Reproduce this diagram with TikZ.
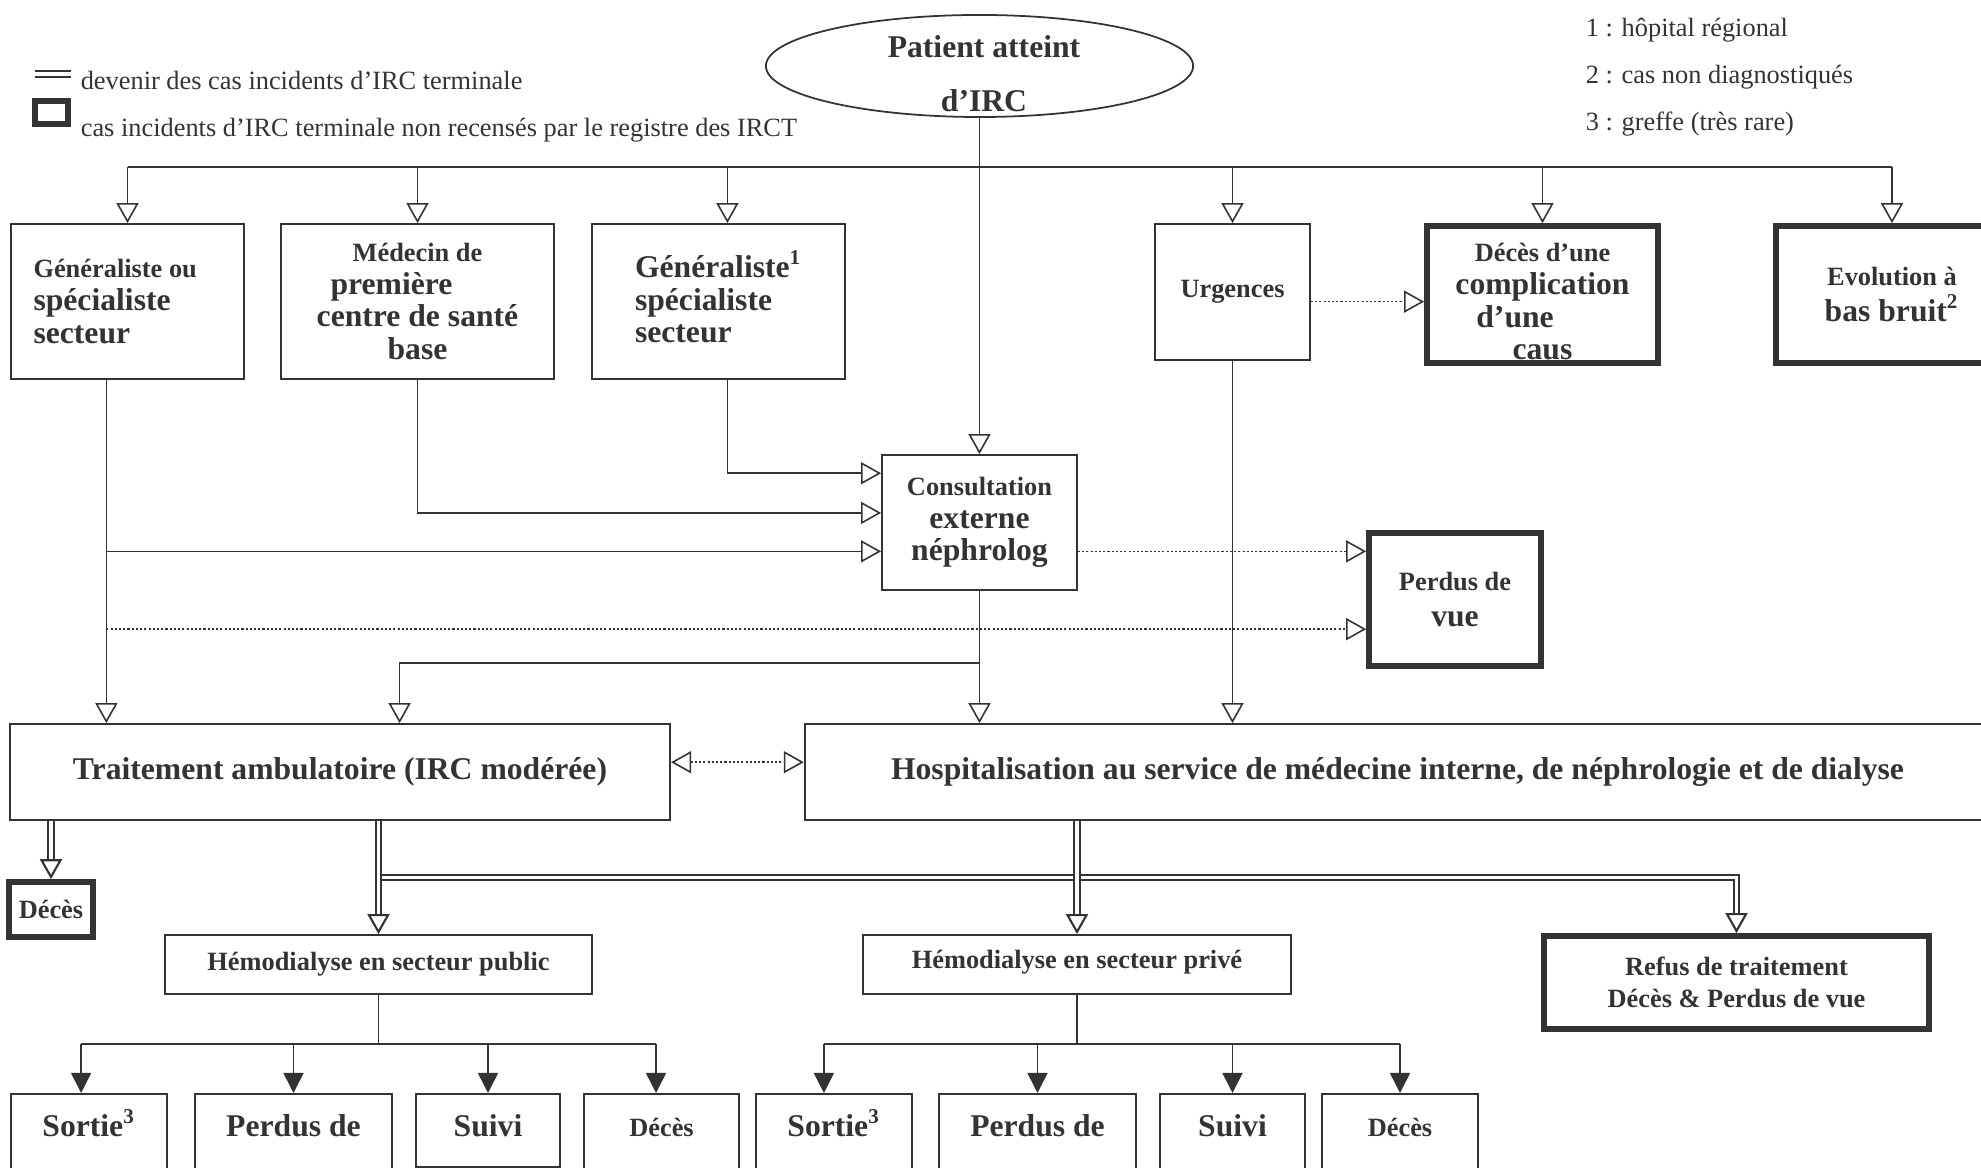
\documentclass[tikz,border=0pt]{standalone}
\usepackage{fontspec}
\setmainfont{Liberation Serif}
\usepackage{tikz}
\usetikzlibrary{calc,arrows.meta,shapes.geometric,positioning}

\definecolor{ink}{HTML}{333333}
\newcommand{\sm}{\fontsize{7.5}{9.3}\selectfont}
\newcommand{\bg}{\fontsize{9}{9.3}\selectfont}

\begin{document}
\begin{tikzpicture}[x=0.01cm, y=-0.01cm, color=ink, line width=0.45pt,
    box/.style={draw, rectangle, inner sep=0pt, line width=0.5pt, font=\bfseries\bg},
    heavy/.style={box, line width=1.6pt},
    smalltxt/.style={font=\bfseries\sm},
    leaf/.style={box, anchor=north, text height=7pt, text depth=10.2pt, inner ysep=5.2pt},
    note/.style={inner sep=0pt, anchor=base west, font=\sm},
    hollow/.style={-{Triangle[open, length=2mm, width=2.2mm]}},
    solidhead/.style={-{Triangle[length=2mm, width=2mm]}},
    dots/.style={dash pattern=on 0.6pt off 0.6pt, -{Triangle[open, length=2mm, width=2.2mm]}},
    dots2/.style={dash pattern=on 0.6pt off 0.6pt, {Triangle[open, length=2mm, width=2.2mm]}-{Triangle[open, length=2mm, width=2.2mm]}},
    dbl/.style={double, line width=0.6pt, double distance=1pt}]
   \useasboundingbox (0,0) rectangle (1981,1168);

   %legend and notes
   \draw[dbl] (35,74) -- (71,74);
   \draw[line width=1.6pt] (35,101) rectangle (68,124);
   \node[note] (lg1) at (80,90) {devenir des cas incidents d'IRC terminale};
   \node[note] (lg2) at (80,137) {cas incidents d'IRC terminale non recensés par le registre des IRCT};
   \node[note] (n1) at (1585,37) {1 : hôpital régional};
   \node[note] (n2) at (1585,84) {2 : cas non diagnostiqués};
   \node[note] (n3) at (1585,131) {3 : greffe (très rare)};

   \node[ellipse, draw, line width=0.5pt, minimum width=4.27cm, minimum height=1.02cm, inner sep=0pt] (pat) at (979.5,66) {};
   \node[font=\bfseries\bg, align=center] (patt) at (984,73.5) {Patient atteint\\[6pt]d'IRC};

   %first contact
   \node[box, minimum width=2.33cm, minimum height=1.55cm, align=left] (gen) at (127.5,301.5) {{\sm Généraliste ou}\hspace*{7pt}\\spécialiste\\secteur};
   \node[box, minimum width=2.73cm, minimum height=1.55cm, align=center] (med) at (417.5,301.5) {{\sm Médecin de}\\première\hspace*{14.8pt}\mbox{}\\centre de santé\\base};
   \node[box, minimum width=2.53cm, minimum height=1.55cm, align=left] (gen2) at (718.5,301.5) {Généraliste\textsuperscript{1}\\spécialiste\\secteur\rule[-2.8pt]{0pt}{2.8pt}};
   \node[box, smalltxt, minimum width=1.55cm, minimum height=1.36cm] (urg) at (1232.5,292) {Urgences};
   \node[heavy, minimum width=2.31cm, minimum height=1.37cm, align=center] (dcc) at (1542.5,294.5) {{\sm\rule{0pt}{9.4pt}Décès d'une}\\complication\\d'une\hspace*{15.6pt}\mbox{}\\caus};
   \node[heavy, minimum width=2.32cm, minimum height=1.37cm, align=center] (evo) at (1892,294.5) {{\sm Evolution à}\\[1pt]bas bruit\textsuperscript{2}};

   \node[box, minimum width=1.95cm, minimum height=1.35cm, align=center] (cons) at (979.5,522.5) {{\sm Consultation}\\externe\\néphrolog};
   \node[heavy, minimum width=1.72cm, minimum height=1.33cm, align=center] (pv) at (1455,599.5) {{\sm Perdus de}\\[1pt]vue};

   %treatment
   \node[box, minimum width=6.6cm, minimum height=0.96cm] (trt) at (340,772) {Traitement ambulatoire (IRC modérée)};
   \node[box, minimum width=11.85cm, minimum height=0.96cm] (hosp) at (1397.5,772) {Hospitalisation au service de médecine interne, de néphrologie et de dialyse};

   \node[heavy, smalltxt, minimum width=0.84cm, minimum height=0.55cm] (dcl) at (51,909.5) {Décès};
   \node[box, smalltxt, minimum width=4.27cm, minimum height=0.59cm] (pub) at (378.5,964.5) {Hémodialyse en secteur public};
   \node[box, smalltxt, minimum width=4.28cm, minimum height=0.59cm] (prv) at (1077,964.5) {Hémodialyse en secteur privé\rule[-3pt]{0pt}{3pt}};
   \node[heavy, smalltxt, minimum width=3.85cm, minimum height=0.93cm, align=center] (ref) at (1736.5,982.5) {Refus de traitement\\Décès \& Perdus de vue};

   %outcome public
   \node[leaf, minimum width=1.56cm] (pA) at (89,1093) {Sortie\textsuperscript{3}};
   \node[leaf, minimum width=1.97cm] (pB) at (293.5,1093) {Perdus de};
   \node[leaf, minimum width=1.44cm, text depth=3.3pt] (pC) at (488,1093) {Suivi};
   \node[leaf, smalltxt, minimum width=1.55cm] (pD) at (661.5,1093) {Décès};
   %outcome private
   \node[leaf, minimum width=1.56cm] (qA) at (834,1093) {Sortie\textsuperscript{3}};
   \node[leaf, minimum width=1.97cm] (qB) at (1037.5,1093) {Perdus de};
   \node[leaf, minimum width=1.45cm] (qC) at (1232.5,1093) {Suivi};
   \node[leaf, smalltxt, minimum width=1.56cm] (qD) at (1400,1093) {Décès};

   \coordinate (bus) at (979.5,167);
   \coordinate (gs) at ($(gen.south west)!0.41!(gen.south east)$);
   \coordinate (g2n) at ($(gen2.north west)!0.535!(gen2.north east)$);
   \coordinate (g2s) at ($(gen2.south west)!0.535!(gen2.south east)$);
   \coordinate (c1) at ($(cons.north west)!0.14!(cons.south west)$);
   \coordinate (c2) at ($(cons.north west)!0.43!(cons.south west)$);
   \coordinate (c3) at ($(cons.north west)!0.711!(cons.south west)$);
   \coordinate (p2) at ($(pv.north west)!0.714!(pv.south west)$);
   \coordinate (u1) at ($(urg.north east)!0.57!(urg.south east)$);
   \coordinate (cb) at ($(cons.south)!0.545!(cons.south |- hosp.north)$);
   \coordinate (tb) at ($(trt.north west)!0.59!(trt.north east)$);
   \coordinate (te) at ($(trt.north east)!0.4!(trt.south east)$);
   \coordinate (dj) at ($(trt.south -| pub.north)!0.5!(pub.north)$);
   \coordinate (pj) at ($(pub.south)!0.5!(pub.south |- pA.north)$);
   \coordinate (qj) at ($(prv.south)!0.5!(prv.south |- qA.north)$);
   \coordinate (pAn) at ($(pA.north west)!0.45!(pA.north east)$);
   \coordinate (pDn) at ($(pD.north west)!0.465!(pD.north east)$);
   \coordinate (qAn) at ($(qA.north west)!0.436!(qA.north east)$);

   %patient to first contact
   \draw (bus -| gen.north) -- (bus -| evo.north);
   \path[hollow]
    (bus -| gen.north) edge (gen.north)
    (bus -| med.north) edge (med.north)
    (bus -| g2n) edge (g2n)
    (bus -| urg.north) edge (urg.north)
    (bus -| dcc.north) edge (dcc.north)
    (bus -| evo.north) edge (evo.north)
    (pat.south) edge (cons.north);

   %towards consultation
   \draw[hollow] (g2s) |- (c1);
   \draw[hollow] (med.south) |- (c2);
   \draw[hollow] (gs |- c3) -- (c3);
   \draw[hollow] (gs) -- (gs |- trt.north);
   \draw[dots] (c3 -| cons.east) -- (c3 -| pv.west);
   \draw[dots] (gs |- p2) -- (p2);
   \draw[dots] (u1) -- (u1 -| dcc.west);

   %towards treatment
   \draw[hollow] (cons.south) -- (cons.south |- hosp.north);
   \draw[hollow] (cb) -| (tb);
   \draw[hollow] (urg.south) -- (urg.south |- hosp.north);
   \draw[dots2] (te) -- (te -| hosp.west);

   %terminal cases
   \draw[dbl, hollow] (dj) -| (ref.north);
   \draw[dbl, hollow] (trt.south -| pub.north) -- (pub.north);
   \draw[dbl, hollow] (hosp.south -| prv.north) -- (prv.north);
   \draw[dbl, hollow] (trt.south -| dcl.north) -- (dcl.north);

   %dialysis outcomes
   \draw (pub.south) -- (pj);
   \draw (pj -| pAn) -- (pj -| pDn);
   \path[solidhead]
    (pj -| pAn) edge (pAn)
    (pj -| pB.north) edge (pB.north)
    (pj -| pC.north) edge (pC.north)
    (pj -| pDn) edge (pDn);
   \draw (prv.south) -- (qj);
   \draw (qj -| qAn) -- (qj -| qD.north);
   \path[solidhead]
    (qj -| qAn) edge (qAn)
    (qj -| qB.north) edge (qB.north)
    (qj -| qC.north) edge (qC.north)
    (qj -| qD.north) edge (qD.north);
\end{tikzpicture}
\end{document}
